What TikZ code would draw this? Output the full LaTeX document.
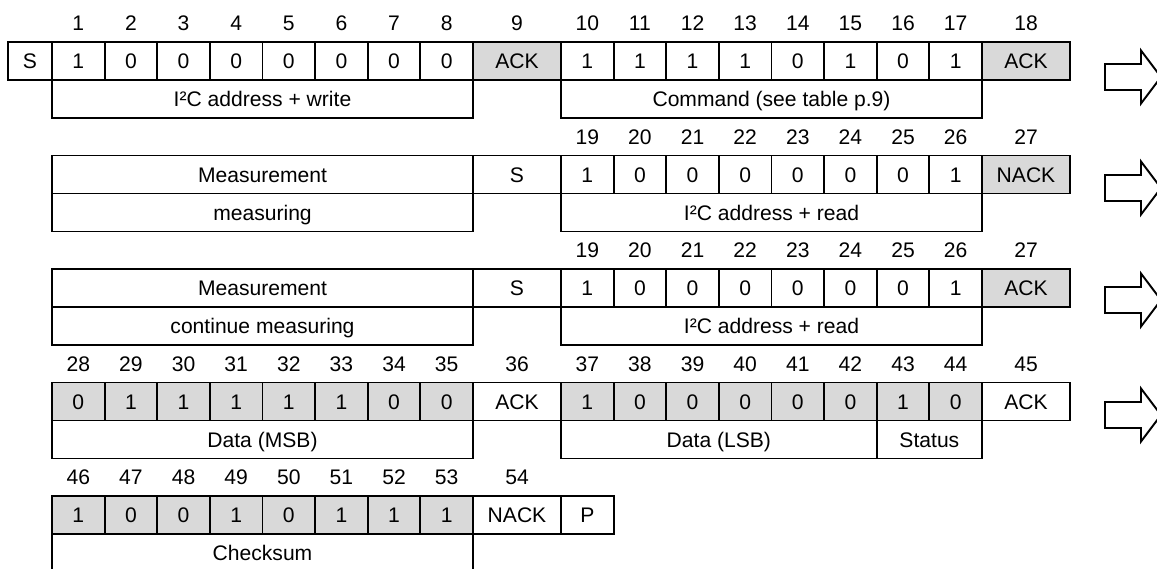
\documentclass[tikz,border=0pt]{standalone}
\usepackage{fontspec}
\setmainfont{Liberation Sans}
\usetikzlibrary{positioning}

\definecolor{ackgray}{RGB}{217,217,217}

\tikzset{
	cell/.style={draw, line width=1.1pt, inner sep=0pt, outer sep=0pt,
		minimum height=0.76cm, text height=8.6pt, text depth=0pt,
		anchor=north west},
	bitcell/.style={cell, minimum width=1.0525cm},
	ackcell/.style={cell, minimum width=1.76cm},
	widecell/.style={cell, minimum width=8.42cm},
	shaded/.style={fill=ackgray},
	bitnum/.style={inner sep=0pt, text height=8.6pt, text depth=0pt},
	blockarrow/.style={draw, line width=1.1pt, line join=miter}
}

\begin{document}
\begin{tikzpicture}[font=\fontsize{12}{14}\selectfont]
		
		\useasboundingbox (0,0) rectangle (23.14,-11.36);
		
		% Write: address + command
		\node[cell, minimum width=0.88cm] (start) at (0.16,-0.84) {S};
		
		\foreach \v [count=\i] in {1,0,0,0,0,0,0,0}{
			\node[bitcell] (b\i) at ({1.04+1.0525*(\i-1)},-0.84) {\v};
			\node[bitnum, above=0.22cm of b\i] (n\i) {\i};
		}
		
		\node[ackcell, shaded] (b9) at (9.46,-0.84) {ACK};
		\node[bitnum, above=0.22cm of b9] (n9) {9};
		
		\foreach \v [count=\i from 10] in {1,1,1,1,0,1,0,1}{
			\node[bitcell] (b\i) at ({11.22+1.0525*(\i-10)},-0.84) {\v};
			\node[bitnum, above=0.22cm of b\i] (n\i) {\i};
		}
		
		\node[ackcell, shaded] (b18) at (19.64,-0.84) {ACK};
		\node[bitnum, above=0.22cm of b18] (n18) {18};
		
		\node[widecell] (addrw) at (1.04,-1.60) {I²C address + write};
		\node[widecell] (cmd) at (11.22,-1.60) {Command (see table p.9)};
		
		% Read attempt while measuring
		\node[widecell] (meas) at (1.04,-3.11) {Measurement};
		\node[ackcell] (restart) at (9.46,-3.11) {S};
		
		\foreach \v [count=\i from 19] in {1,0,0,0,0,0,0,1}{
			\node[bitcell] (b\i) at ({11.22+1.0525*(\i-19)},-3.11) {\v};
			\node[bitnum, above=0.22cm of b\i] (n\i) {\i};
		}
		
		\node[ackcell, shaded] (b27) at (19.64,-3.11) {NACK};
		\node[bitnum, above=0.22cm of b27] (n27) {27};
		
		\node[widecell] (busy) at (1.04,-3.87) {measuring};
		\node[widecell] (addrr) at (11.22,-3.87) {I²C address + read};
		
		% Read attempt, measurement done
		\node[widecell] (meas2) at (1.04,-5.38) {Measurement};
		\node[ackcell] (restart2) at (9.46,-5.38) {S};
		
		\foreach \v [count=\i from 19] in {1,0,0,0,0,0,0,1}{
			\node[bitcell] (bb\i) at ({11.22+1.0525*(\i-19)},-5.38) {\v};
			\node[bitnum, above=0.22cm of bb\i] (nn\i) {\i};
		}
		
		\node[ackcell, shaded] (bb27) at (19.64,-5.38) {ACK};
		\node[bitnum, above=0.22cm of bb27] (nn27) {27};
		
		\node[widecell] (busy2) at (1.04,-6.14) {continue measuring};
		\node[widecell] (addrr2) at (11.22,-6.14) {I²C address + read};
		
		% Data bytes
		\foreach \v [count=\i from 28] in {0,1,1,1,1,1,0,0}{
			\node[bitcell, shaded] (b\i) at ({1.04+1.0525*(\i-28)},-7.65) {\v};
			\node[bitnum, above=0.22cm of b\i] (n\i) {\i};
		}
		
		\node[ackcell] (b36) at (9.46,-7.65) {ACK};
		\node[bitnum, above=0.22cm of b36] (n36) {36};
		
		\foreach \v [count=\i from 37] in {1,0,0,0,0,0,1,0}{
			\node[bitcell, shaded] (b\i) at ({11.22+1.0525*(\i-37)},-7.65) {\v};
			\node[bitnum, above=0.22cm of b\i] (n\i) {\i};
		}
		
		\node[ackcell] (b45) at (19.64,-7.65) {ACK};
		\node[bitnum, above=0.22cm of b45] (n45) {45};
		
		\node[widecell] (msb) at (1.04,-8.41) {Data (MSB)};
		\node[cell, minimum width=6.315cm] (lsb) at (11.22,-8.41) {Data (LSB)};
		\node[cell, minimum width=2.105cm] (status) at (17.535,-8.41) {Status};
		
		% Checksum and stop
		\foreach \v [count=\i from 46] in {1,0,0,1,0,1,1,1}{
			\node[bitcell, shaded] (b\i) at ({1.04+1.0525*(\i-46)},-9.92) {\v};
			\node[bitnum, above=0.22cm of b\i] (n\i) {\i};
		}
		
		\node[ackcell] (b54) at (9.46,-9.92) {NACK};
		\node[bitnum, above=0.22cm of b54] (n54) {54};
		
		\node[bitcell] (stop) at (11.22,-9.92) {P};
		
		\node[widecell] (crc) at (1.04,-10.68) {Checksum};
		
		% next-step arrows
		\foreach \y in {-1.54,-3.76,-6.00,-8.30}
		\draw[blockarrow] (22.10,{\y+0.26}) -- (22.82,{\y+0.26}) -- (22.82,{\y+0.53})
		-- (23.22,\y) -- (22.82,{\y-0.53}) -- (22.82,{\y-0.26})
		-- (22.10,{\y-0.26}) -- cycle;
		
	\end{tikzpicture}
\end{document}
